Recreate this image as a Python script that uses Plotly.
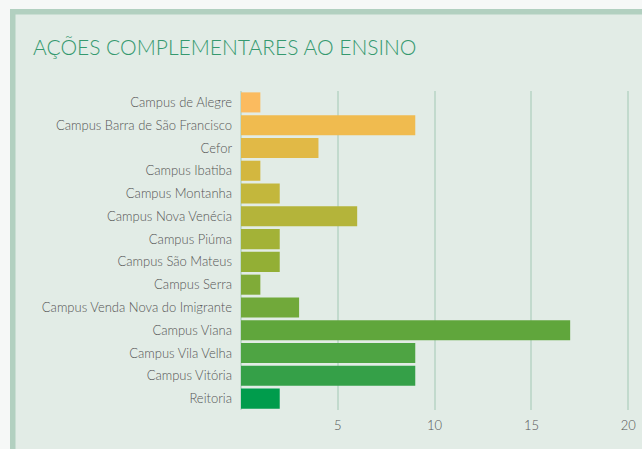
import plotly.graph_objects as go

# data
campi = [
    "Campus de Alegre", "Campus Barra de São Francisco", "Cefor",
    "Campus Ibatiba", "Campus Montanha", "Campus Nova Venécia",
    "Campus Piúma", "Campus São Mateus", "Campus Serra",
    "Campus Venda Nova do Imigrante", "Campus Viana", "Campus Vila Velha",
    "Campus Vitória", "Reitoria"
]
acoes = [1, 9, 4, 1, 2, 6, 2, 2, 1, 3, 17, 9, 9, 2]
cores = [
    "#fbbb5f", "#f0bb4f", "#e1b946", "#d3b73f", "#c3b73c", "#b4b43a",
    "#a3b237", "#93af35", "#80ab38", "#71a93a", "#60a63c", "#4ea443",
    "#35a048", "#009c4c"
]
x_ticks = [5, 10, 15, 20]

panel = "#e2ece6"
borda = "#b2d0c0"

# plot area in pixels
L, R, T, B = 241, 6, 91, 39
PW, PH = 642 - L - R, 449 - T - B


def px(x):
    return (x - L) / PW


def py(y):
    return (449 - B - y) / PH


fig = go.Figure()
fig.add_trace(go.Bar(
    x=acoes, y=campi, orientation="h",
    marker=dict(color=cores, line=dict(width=0)),
    hoverinfo="x+y"
))

fig.update_layout(
    width=642, height=449,
    margin=dict(l=L, r=R, t=T, b=B),
    paper_bgcolor=panel,
    plot_bgcolor=panel,
    showlegend=False,
    bargap=0.12,
    font=dict(family="Lato", color="#555555", size=13),
    shapes=[
        # light strip around the card
        dict(type="rect", xref="paper", yref="paper", layer="below",
             x0=px(-5), x1=px(650), y0=py(9), y1=py(-5),
             fillcolor="#f6f8f7", line_width=0),
        dict(type="rect", xref="paper", yref="paper", layer="below",
             x0=px(-5), x1=px(10), y0=py(455), y1=py(-5),
             fillcolor="#f6f8f7", line_width=0),
        # card border (top and left)
        dict(type="rect", xref="paper", yref="paper", layer="below",
             x0=px(10), x1=px(650), y0=py(14.5), y1=py(9),
             fillcolor=borda, line_width=0),
        dict(type="rect", xref="paper", yref="paper", layer="below",
             x0=px(10), x1=px(15.5), y0=py(455), y1=py(9),
             fillcolor=borda, line_width=0),
    ],
    annotations=[dict(
        text="AÇÕES COMPLEMENTARES AO ENSINO",
        xref="paper", yref="paper",
        x=px(31), y=py(47),
        xanchor="left", yanchor="middle", showarrow=False,
        font=dict(family="Lato", size=21, color="#35996f", weight=300)
    )]
)

fig.update_xaxes(
    range=[0, 20.4], tickvals=x_ticks,
    showgrid=True, gridcolor="#c2dacd", gridwidth=1.5,
    zeroline=True, zerolinecolor="#c2dacd", zerolinewidth=2,
    ticks="", ticklabelstandoff=6,
    tickfont=dict(size=13, color="#555555", weight=300)
)
fig.update_yaxes(
    categoryorder="array", categoryarray=campi, autorange="reversed",
    showgrid=False, ticks="", ticklabelstandoff=8,
    tickfont=dict(size=13, color="#555555", weight=300)
)

fig.write_html(
    "out.html",
    config={"displayModeBar": False},
    post_script="document.body.style.margin='0';"
)
